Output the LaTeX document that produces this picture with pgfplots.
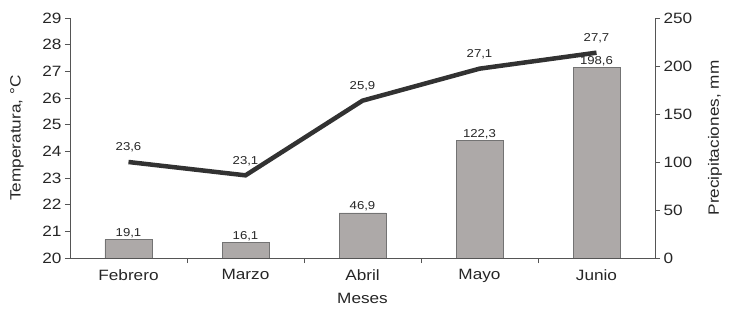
\documentclass[border=0pt]{standalone}
\usepackage{pgfplots}
\pgfplotsset{compat=1.18}
\usepackage{fontspec}
\setmainfont{Liberation Sans}[FakeStretch=1.15]
\definecolor{bargray}{RGB}{173,169,168}
\definecolor{linegray}{RGB}{50,50,50}
\definecolor{axgray}{RGB}{85,85,85}
\begin{document}
\begin{tikzpicture}
\path[use as bounding box] (-70bp,-56bp) rectangle (660bp,258bp);
\begin{axis}[
  at={(0,0)}, anchor=south west, scale only axis,
  width=585bp, height=240bp,
  xmin=-0.5, xmax=4.5, ymin=0, ymax=250,
  axis y line*=right, axis x line=none,
  axis line style={-, axgray, line width=1pt},
  ytick={0,50,...,250},
  tick align=outside, major tick length=5bp,
  tick style={axgray, line width=0.8pt},
  yticklabel style={font=\fontsize{15}{17}\selectfont, color=black!85},
  /pgf/number format/assume math mode=true,
  ylabel={Precipitaciones, mm},
  ylabel style={at={(axis description cs:1.1026,0.5)}, anchor=center, font=\fontsize{15}{17}\selectfont, color=black!85},
  point meta=explicit symbolic,
  nodes near coords,
  every node near coord/.append style={font=\fontsize{11.5}{13}\selectfont, anchor=south, inner sep=1.5bp, color=black!85},
]
\addplot[ybar, bar width=47bp, fill=bargray, draw=black!55, line width=0.6pt] coordinates {
(0,19.1) [19,1]
(1,16.1) [16,1]
(2,46.9) [46,9]
(3,122.3) [122,3]
(4,198.6) [198,6]
};
\end{axis}
\begin{axis}[
  at={(0,0)}, anchor=south west, scale only axis,
  width=585bp, height=240bp,
  xmin=-0.5, xmax=4.5, ymin=20, ymax=29,
  axis y line*=left, axis x line*=bottom,
  axis line style={-, axgray, line width=1pt},
  ytick={20,21,...,29},
  xtick={0,1,2,3,4},
  xticklabels={Febrero,Marzo,Abril,Mayo,Junio},
  minor xtick={0.5,1.5,2.5,3.5},
  tick align=outside, major tick length=5bp, minor tick length=5bp,
  xtick style={draw=none},
  minor x tick style={draw=axgray, line width=0.8pt},
  ytick style={axgray, line width=0.8pt},
  yticklabel style={font=\fontsize{15}{17}\selectfont, color=black!85},
  xticklabel style={font=\fontsize{15}{17}\selectfont, color=black!85, yshift=-3bp},
  /pgf/number format/assume math mode=true,
  ylabel={Temperatura, °C},
  ylabel style={at={(axis description cs:-0.0906,0.5)}, anchor=center, font=\fontsize{15}{17}\selectfont, color=black!85},
  xlabel={Meses},
  xlabel style={at={(axis description cs:0.5,0)}, anchor=center, yshift=-40bp, font=\fontsize{15}{17}\selectfont, color=black!85},
  point meta=explicit symbolic,
  nodes near coords,
  every node near coord/.append style={font=\fontsize{11.5}{13}\selectfont, anchor=south, yshift=4bp, color=black!85},
]
\addplot[linegray, line width=4.5bp, no marks] coordinates {
(0,23.6) [23,6]
(1,23.1) [23,1]
(2,25.9) [25,9]
(3,27.1) [27,1]
(4,27.7) [27,7]
};
\end{axis}
\end{tikzpicture}
\end{document}
